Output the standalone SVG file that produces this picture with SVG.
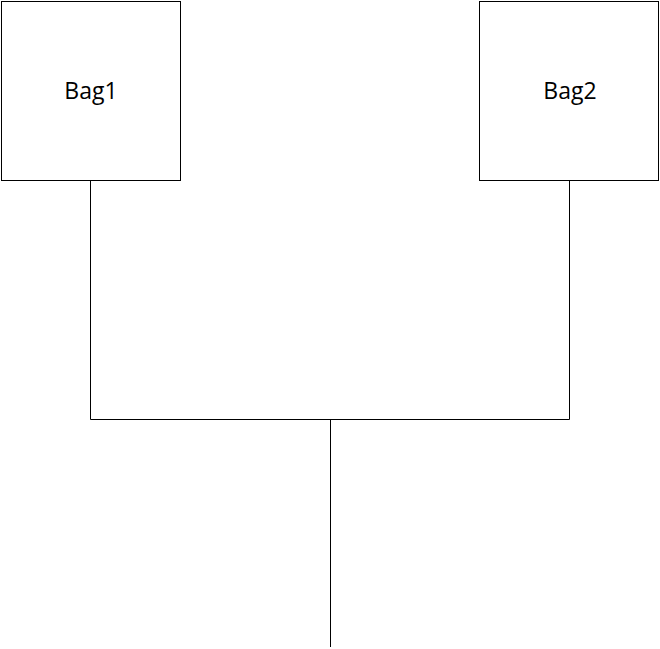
<svg xmlns="http://www.w3.org/2000/svg" width="660" height="649" viewBox="0 0 660 649">
<style>
.box{fill:#fff;stroke:#000;stroke-width:1}
.lbl{font-family:"Open Sans","Noto Sans",sans-serif;font-size:23px;fill:#000;text-anchor:middle}
.wire{fill:none;stroke:#000;stroke-width:1}
</style>
<rect width="660" height="649" fill="#fff"/>
<g id="connectors">
<polyline class="wire" points="90.5,180.5 90.5,419.5 569.5,419.5 569.5,180.5"/>
<line class="wire" x1="330.5" y1="419.5" x2="330.5" y2="647"/>
</g>
<g id="bag1">
<rect class="box" x="1.5" y="1.5" width="179" height="179"/>
<text class="lbl" x="91" y="99">Bag1</text>
</g>
<g id="bag2">
<rect class="box" x="479.5" y="1.5" width="179" height="179"/>
<text class="lbl" x="570" y="99">Bag2</text>
</g>
</svg>
